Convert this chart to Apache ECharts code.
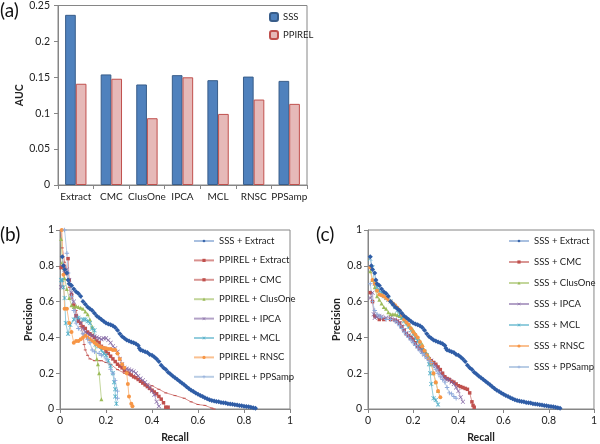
<!DOCTYPE html>
<html><head><meta charset="utf-8">
<script src="https://cdn.jsdelivr.net/npm/echarts@6/dist/echarts.min.js"></script>
<style>html,body{margin:0;padding:0;background:#fff}#c{width:600px;height:444px}</style>
</head><body><div id="c"></div>
<script>
// ---- Panel (a) data ----
const methods = ['Extract','CMC','ClusOne','IPCA','MCL','RNSC','PPSamp'];
const aucSSS = [0.237,0.154,0.140,0.153,0.146,0.151,0.145];
const aucPPIREL = [0.141,0.148,0.093,0.150,0.099,0.119,0.113];
const aucTicks = [0,0.05,0.1,0.15,0.2,0.25];
const prTicks = [0,0.2,0.4,0.6,0.8,1];

// ---- Panel (b)/(c) data: [recall, precision] ----
const sssExtract = [[0.01,0.85],[0.015,0.80],[0.02,0.78],[0.03,0.76],[0.035,0.72],[0.04,0.70],[0.05,0.69],[0.06,0.67],[0.07,0.655],[0.08,0.645],[0.09,0.63],[0.10,0.60],[0.11,0.585],[0.12,0.57],[0.13,0.56],[0.14,0.55],[0.15,0.535],[0.16,0.52],[0.17,0.51],[0.18,0.50],[0.19,0.49],[0.20,0.48],[0.21,0.475],[0.22,0.47],[0.23,0.465],[0.24,0.455],[0.25,0.44],[0.26,0.42],[0.27,0.405],[0.28,0.395],[0.29,0.385],[0.30,0.38],[0.31,0.375],[0.32,0.37],[0.33,0.365],[0.34,0.355],[0.345,0.34],[0.35,0.33],[0.36,0.325],[0.37,0.32],[0.38,0.315],[0.39,0.305],[0.40,0.30],[0.41,0.29],[0.42,0.28],[0.43,0.265],[0.44,0.245],[0.45,0.23],[0.46,0.22],[0.47,0.205],[0.48,0.195],[0.49,0.185],[0.50,0.175],[0.51,0.165],[0.52,0.155],[0.53,0.145],[0.54,0.135],[0.55,0.125],[0.56,0.115],[0.57,0.105],[0.58,0.098],[0.59,0.09],[0.60,0.083],[0.61,0.076],[0.62,0.07],[0.63,0.063],[0.64,0.057],[0.65,0.052],[0.66,0.048],[0.67,0.045],[0.68,0.042],[0.69,0.04],[0.70,0.037],[0.71,0.035],[0.72,0.033],[0.73,0.03],[0.74,0.028],[0.75,0.026],[0.76,0.024],[0.77,0.022],[0.78,0.02],[0.79,0.018],[0.80,0.016],[0.81,0.014],[0.82,0.012],[0.83,0.01],[0.84,0.007],[0.85,0.004]];

const ppExtract = [[0.005,1.0],[0.01,0.9],[0.02,0.82],[0.03,0.75],[0.04,0.68],[0.05,0.62],[0.06,0.58],[0.07,0.55],[0.08,0.5],[0.09,0.46],[0.10,0.42],[0.105,0.36],[0.11,0.33],[0.12,0.3],[0.13,0.28],[0.15,0.27],[0.17,0.27],[0.18,0.27],[0.20,0.26],[0.22,0.25],[0.25,0.22],[0.28,0.2],[0.30,0.19],[0.33,0.17],[0.36,0.15],[0.40,0.13],[0.43,0.11],[0.46,0.09],[0.50,0.075],[0.54,0.06],[0.57,0.04],[0.60,0.025],[0.63,0.02],[0.66,0.005],[0.67,0.0]];
const ppCMC = [[0.005,0.79],[0.015,0.80],[0.025,0.76],[0.035,0.84],[0.04,0.72],[0.05,0.64],[0.06,0.58],[0.07,0.52],[0.08,0.49],[0.09,0.48],[0.10,0.46],[0.11,0.45],[0.12,0.43],[0.13,0.42],[0.14,0.41],[0.15,0.40],[0.16,0.38],[0.17,0.37],[0.18,0.35],[0.19,0.34],[0.20,0.32],[0.21,0.31],[0.22,0.295],[0.23,0.28],[0.24,0.265],[0.25,0.25],[0.26,0.24],[0.27,0.23],[0.28,0.215],[0.29,0.205],[0.30,0.2],[0.31,0.19],[0.32,0.18],[0.33,0.175],[0.34,0.165],[0.35,0.155],[0.36,0.145],[0.37,0.135],[0.38,0.125],[0.39,0.115],[0.40,0.105],[0.41,0.095],[0.42,0.085],[0.43,0.07],[0.44,0.055],[0.45,0.035],[0.46,0.01],[0.47,0.01]];
const ppClusOne = [[0.005,0.95],[0.01,0.82],[0.02,0.73],[0.03,0.67],[0.04,0.62],[0.05,0.58],[0.06,0.57],[0.07,0.575],[0.08,0.57],[0.09,0.565],[0.10,0.56],[0.11,0.545],[0.12,0.53],[0.13,0.5],[0.14,0.46],[0.15,0.38],[0.16,0.28],[0.165,0.25],[0.17,0.2],[0.18,0.055]];
const ppIPCA = [[0.005,0.68],[0.02,0.76],[0.03,0.78],[0.04,0.72],[0.05,0.65],[0.06,0.6],[0.07,0.52],[0.08,0.5],[0.09,0.48],[0.10,0.45],[0.11,0.43],[0.12,0.42],[0.13,0.415],[0.14,0.41],[0.15,0.405],[0.16,0.40],[0.17,0.395],[0.18,0.39],[0.19,0.395],[0.20,0.395],[0.21,0.385],[0.22,0.37],[0.23,0.35],[0.24,0.34],[0.25,0.32],[0.26,0.28],[0.27,0.25],[0.28,0.23],[0.29,0.225],[0.30,0.22],[0.31,0.215],[0.32,0.21],[0.33,0.2],[0.34,0.185],[0.35,0.17],[0.36,0.16],[0.37,0.15],[0.38,0.135],[0.39,0.12],[0.40,0.1],[0.41,0.08],[0.42,0.04],[0.43,0.015]];
const ppMCL = [[0.005,0.72],[0.01,0.72],[0.015,0.68],[0.02,0.62],[0.025,0.48],[0.035,0.42],[0.045,0.47],[0.06,0.5],[0.08,0.51],[0.10,0.5],[0.11,0.5],[0.12,0.49],[0.13,0.48],[0.14,0.45],[0.15,0.44],[0.155,0.36],[0.165,0.35],[0.18,0.33],[0.19,0.31],[0.20,0.3],[0.21,0.27],[0.22,0.24],[0.23,0.2],[0.235,0.15],[0.24,0.11],[0.24,0.07],[0.245,0.03]];
const ppRNSC = [[0.008,1.0],[0.015,0.75],[0.02,0.56],[0.03,0.56],[0.04,0.48],[0.05,0.43],[0.06,0.37],[0.07,0.38],[0.08,0.38],[0.09,0.39],[0.10,0.40],[0.11,0.41],[0.12,0.40],[0.13,0.39],[0.14,0.38],[0.15,0.37],[0.16,0.36],[0.17,0.35],[0.18,0.345],[0.19,0.34],[0.20,0.34],[0.21,0.335],[0.22,0.335],[0.23,0.33],[0.24,0.33],[0.25,0.31],[0.26,0.28],[0.27,0.25],[0.28,0.23],[0.29,0.2],[0.295,0.14],[0.30,0.07],[0.31,0.03],[0.315,0.015]];
const ppPPSamp = [[0.02,1.0],[0.03,0.87],[0.035,0.76],[0.04,0.7],[0.05,0.63],[0.06,0.55],[0.07,0.48],[0.08,0.45],[0.10,0.42],[0.12,0.39],[0.13,0.37],[0.14,0.33],[0.15,0.32],[0.17,0.31],[0.18,0.3],[0.20,0.28],[0.22,0.22],[0.23,0.2],[0.24,0.16],[0.25,0.1],[0.25,0.06]];

const sssCMC = [[0.01,0.65],[0.02,0.6],[0.03,0.52],[0.05,0.5],[0.07,0.5],[0.10,0.5],[0.12,0.495],[0.13,0.49],[0.14,0.48],[0.15,0.46],[0.16,0.44],[0.17,0.42],[0.18,0.41],[0.19,0.4],[0.20,0.39],[0.21,0.37],[0.22,0.35],[0.23,0.34],[0.24,0.33],[0.25,0.32],[0.26,0.3],[0.27,0.28],[0.28,0.27],[0.29,0.26],[0.30,0.25],[0.31,0.235],[0.32,0.22],[0.33,0.2],[0.34,0.18],[0.35,0.17],[0.36,0.165],[0.37,0.155],[0.38,0.15],[0.39,0.14],[0.40,0.13],[0.41,0.125],[0.42,0.12],[0.43,0.115],[0.44,0.11],[0.45,0.09],[0.46,0.04],[0.465,0.02],[0.47,0.01]];
const sssClusOne = [[0.01,0.77],[0.02,0.72],[0.03,0.68],[0.04,0.63],[0.05,0.61],[0.06,0.59],[0.07,0.57],[0.08,0.56],[0.09,0.54],[0.10,0.53],[0.11,0.53],[0.12,0.53],[0.13,0.525],[0.14,0.52],[0.15,0.51],[0.16,0.5],[0.17,0.485],[0.18,0.47],[0.19,0.455],[0.20,0.44],[0.21,0.42],[0.22,0.4],[0.23,0.38],[0.24,0.36],[0.25,0.33],[0.26,0.31],[0.27,0.29],[0.28,0.25],[0.29,0.2],[0.30,0.15],[0.31,0.1]];
const sssIPCA = [[0.01,0.62],[0.02,0.65],[0.025,0.53],[0.03,0.51],[0.04,0.515],[0.05,0.52],[0.06,0.515],[0.08,0.51],[0.10,0.51],[0.12,0.5],[0.13,0.49],[0.14,0.48],[0.15,0.46],[0.16,0.44],[0.17,0.425],[0.18,0.41],[0.19,0.395],[0.20,0.38],[0.21,0.365],[0.22,0.35],[0.23,0.335],[0.24,0.32],[0.25,0.305],[0.26,0.29],[0.27,0.28],[0.28,0.27],[0.29,0.255],[0.30,0.24],[0.31,0.22],[0.32,0.2],[0.33,0.185],[0.34,0.17],[0.35,0.165],[0.36,0.16],[0.37,0.15],[0.38,0.14],[0.39,0.12],[0.40,0.1],[0.41,0.065],[0.42,0.04]];
const sssMCL = [[0.01,0.84],[0.02,0.79],[0.03,0.7],[0.04,0.68],[0.05,0.66],[0.06,0.65],[0.07,0.63],[0.08,0.62],[0.09,0.61],[0.10,0.6],[0.11,0.585],[0.12,0.57],[0.13,0.55],[0.14,0.53],[0.15,0.51],[0.16,0.49],[0.17,0.475],[0.18,0.46],[0.19,0.44],[0.20,0.42],[0.21,0.4],[0.22,0.38],[0.23,0.36],[0.24,0.34],[0.25,0.32],[0.26,0.3],[0.27,0.25],[0.275,0.2],[0.28,0.14],[0.29,0.06],[0.30,0.05],[0.31,0.025]];
const sssRNSC = [[0.01,0.79],[0.02,0.72],[0.03,0.70],[0.04,0.66],[0.05,0.64],[0.06,0.635],[0.07,0.63],[0.08,0.62],[0.09,0.61],[0.10,0.6],[0.11,0.59],[0.12,0.58],[0.13,0.565],[0.14,0.55],[0.15,0.525],[0.16,0.5],[0.17,0.485],[0.18,0.47],[0.19,0.45],[0.20,0.43],[0.21,0.415],[0.22,0.4],[0.23,0.375],[0.24,0.35],[0.25,0.325],[0.26,0.3],[0.27,0.28],[0.28,0.26],[0.29,0.2],[0.30,0.15],[0.31,0.1],[0.32,0.066]];
const sssPPSamp = [[0.01,0.7],[0.02,0.6],[0.03,0.55],[0.04,0.53],[0.05,0.52],[0.06,0.51],[0.08,0.5],[0.10,0.5],[0.12,0.49],[0.13,0.48],[0.14,0.465],[0.15,0.45],[0.16,0.43],[0.17,0.415],[0.18,0.4],[0.19,0.385],[0.20,0.37],[0.21,0.355],[0.22,0.34],[0.23,0.325],[0.24,0.31],[0.25,0.3],[0.26,0.285],[0.27,0.27],[0.28,0.26],[0.29,0.24],[0.30,0.22],[0.31,0.2],[0.32,0.18],[0.33,0.165],[0.34,0.15],[0.35,0.12],[0.36,0.09],[0.37,0.085],[0.38,0.07],[0.39,0.06]];

const FONT = 'Lato';
const X_PATH = 'path://M0,1L1,0L5,4L9,0L10,1L6,5L10,9L9,10L5,6L1,10L0,9L4,5Z';
const STAR_PATH = 'path://M0,1L1,0L4.3,3.3V0H5.7V3.3L9,0L10,1L6,5L10,9L9,10L5.7,6.7V10H4.3V6.7L1,10L0,9L4,5Z';
const PLUS_PATH = 'path://M4,0H6V4H10V6H6V10H4V6H0V4H4Z';

const styles = {
  extract: {m:'#2F5DA6', l:'#A9C0E0', sym:'diamond', size:5},
  ppext: {m:'#C0504D', l:'#D9908E', sym:'rect', size:[3,1]},
  cmc: {m:'#C0504D', l:'#D99694', sym:'rect', size:3.5},
  clus: {m:'#9BBB59', l:'#C3D69B', sym:'triangle', size:4},
  ipca: {m:'#8064A2', l:'#B3A2C7', sym:X_PATH, size:4.5},
  mcl: {m:'#4BACC6', l:'#93CDDD', sym:STAR_PATH, size:4.5},
  rnsc: {m:'#F79646', l:'#FAC090', sym:'circle', size:4},
  pps: {m:'#8EA9DB', l:'#B9CDE5', sym:PLUS_PATH, size:4.5}
};
function lineSeries(name, data, st, idx){
  return {type:'line', name, data, xAxisIndex:idx, yAxisIndex:idx,
    symbol:st.sym, symbolSize:st.size, showSymbol:true,
    lineStyle:{width:1, color:st.l}, itemStyle:{color:st.m}, animation:false, z:st===styles.extract?3:2};
}
const axisTxt = {fontFamily:FONT, fontSize:10.5, color:'#222'};
const axisLineStyle = {show:true, lineStyle:{color:'#868686', width:1}};
const nameStyle = {fontFamily:FONT,fontSize:10.5,fontWeight:'bold',color:'#222'};
function valAxis(idx, isX){
  const ax = {type:'value', gridIndex:idx, min:0, max:1, interval:0.2,
    axisLine:axisLineStyle, axisTick:{show:true, lineStyle:{color:'#868686'}, length:4},
    splitLine:{show:false}, axisLabel:Object.assign({margin:6}, axisTxt)};
  if(isX){ ax.name='Recall'; ax.nameLocation='middle'; ax.nameGap=23; ax.nameTextStyle=nameStyle; }
  else { ax.name='Precision'; ax.nameLocation='middle'; ax.nameGap=26; ax.nameTextStyle=nameStyle; }
  return ax;
}

const bNames = ['SSS + Extract','PPIREL + Extract','PPIREL + CMC','PPIREL + ClusOne','PPIREL + IPCA','PPIREL + MCL','PPIREL + RNSC','PPIREL + PPSamp'];
const cNames = ['SSS + Extract','SSS + CMC','SSS + ClusOne','SSS + IPCA','SSS + MCL','SSS + RNSC','SSS + PPSamp'];

const series = [
  {type:'bar', name:'SSS', data:aucSSS, xAxisIndex:0, yAxisIndex:0, barGap:'0%', barCategoryGap:'40%',
   itemStyle:{color:'#4F81BD', borderColor:'#385D8A', borderWidth:1}, animation:false},
  {type:'bar', name:'PPIREL', data:aucPPIREL, xAxisIndex:0, yAxisIndex:0,
   itemStyle:{color:'#E6B9B8', borderColor:'#C0504D', borderWidth:1}, animation:false},
  lineSeries(bNames[1], ppExtract, styles.ppext, 1),
  lineSeries(bNames[2], ppCMC, styles.cmc, 1),
  lineSeries(bNames[3], ppClusOne, styles.clus, 1),
  lineSeries(bNames[4], ppIPCA, styles.ipca, 1),
  lineSeries(bNames[5], ppMCL, styles.mcl, 1),
  lineSeries(bNames[6], ppRNSC, styles.rnsc, 1),
  lineSeries(bNames[7], ppPPSamp, styles.pps, 1),
  lineSeries(bNames[0], sssExtract, styles.extract, 1),
  lineSeries(cNames[1], sssCMC, styles.cmc, 2),
  lineSeries(cNames[2], sssClusOne, styles.clus, 2),
  lineSeries(cNames[3], sssIPCA, styles.ipca, 2),
  lineSeries(cNames[4], sssMCL, styles.mcl, 2),
  lineSeries(cNames[5], sssRNSC, styles.rnsc, 2),
  lineSeries(cNames[6], sssPPSamp, styles.pps, 2),
  lineSeries(cNames[0], sssExtract, styles.extract, 2)
];

const legendText = {fontFamily:FONT, fontSize:9.5, color:'#222', lineHeight:12};
const option = {
  animation:false,
  backgroundColor:'#fff',
  grid:[
    {left:58, top:4, width:249, height:181, show:true, borderColor:'#868686', borderWidth:1},
    {left:60, top:230, width:230, height:182, show:true, borderColor:'#868686', borderWidth:1},
    {left:368, top:230, width:229, height:182, show:true, borderColor:'#868686', borderWidth:1}
  ],
  xAxis:[
    {type:'category', gridIndex:0, data:methods, axisLine:axisLineStyle,
     axisTick:{show:true, lineStyle:{color:'#868686'}, length:4}, axisLabel:Object.assign({margin:7, interval:0}, axisTxt, {fontSize:10})},
    valAxis(1,true), valAxis(2,true)
  ],
  yAxis:[
    {type:'value', gridIndex:0, min:0, max:0.25, interval:0.05, axisLine:axisLineStyle,
     axisTick:{show:true, lineStyle:{color:'#868686'}, length:4}, splitLine:{show:false},
     axisLabel:Object.assign({margin:8, formatter:v=>String(+v.toFixed(2))}, axisTxt),
     name:'AUC', nameLocation:'middle', nameGap:28, nameTextStyle:nameStyle},
    valAxis(1,false), valAxis(2,false)
  ],
  legend:[
    {data:['SSS','PPIREL'], orient:'vertical', left:264, top:6, itemWidth:8, itemHeight:8, itemGap:6,
     textStyle:legendText, selectedMode:false},
    {data:bNames, orient:'vertical', left:188, top:230, itemWidth:20, itemHeight:4, itemGap:7.4,
     textStyle:legendText, selectedMode:false},
    {data:cNames, orient:'vertical', left:503, top:230, itemWidth:20, itemHeight:4, itemGap:9,
     textStyle:legendText, selectedMode:false}
  ],
  graphic:[
    {type:'text', left:0, top:1, style:{text:'(a)', font:'19px '+FONT, fill:'#111'}},
    {type:'text', left:0, top:225, style:{text:'(b)', font:'19px '+FONT, fill:'#111'}},
    {type:'text', left:316, top:225, style:{text:'(c)', font:'19px '+FONT, fill:'#111'}}
  ],
  series
};
const chart = echarts.init(document.getElementById('c'), null, {renderer:'canvas'});
chart.setOption(option);
</script></body></html>
